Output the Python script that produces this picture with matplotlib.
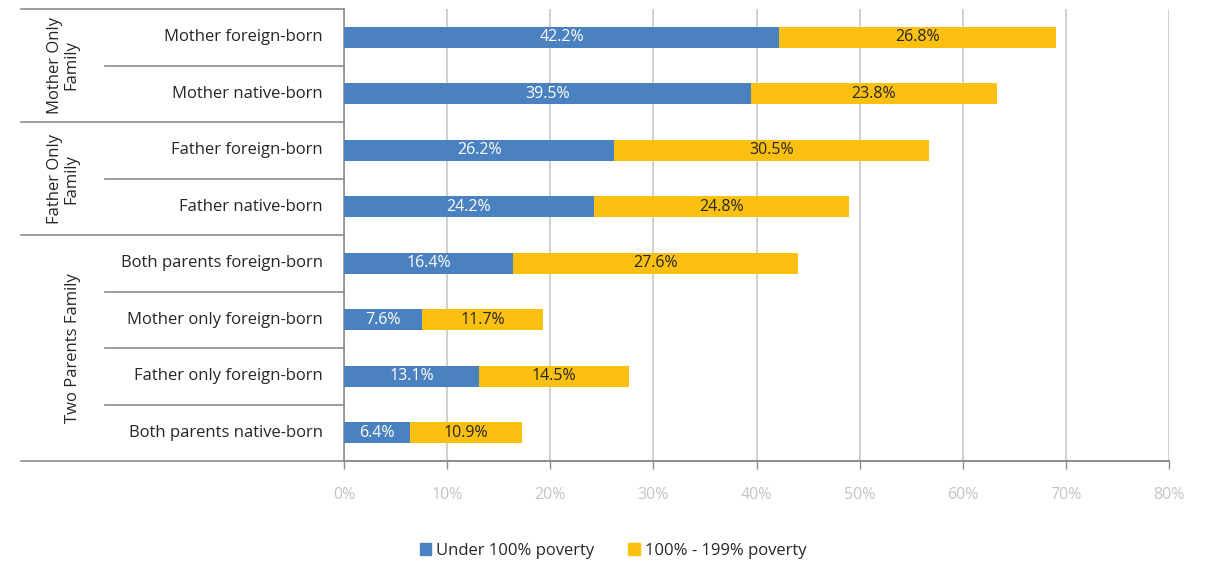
import matplotlib
matplotlib.use("Agg")
import matplotlib.pyplot as plt
import matplotlib.ticker as mticker
from matplotlib.lines import Line2D

# Family type groups and sub-categories (top to bottom)
groups = ["Mother Only\nFamily", "Father Only\nFamily", "Two Parents Family"]
group_sizes = [2, 2, 4]
categories = [
    "Mother foreign-born",
    "Mother native-born",
    "Father foreign-born",
    "Father native-born",
    "Both parents foreign-born",
    "Mother only foreign-born",
    "Father only foreign-born",
    "Both parents native-born",
]
under_100 = [42.2, 39.5, 26.2, 24.2, 16.4, 7.6, 13.1, 6.4]
pov_100_199 = [26.8, 23.8, 30.5, 24.8, 27.6, 11.7, 14.5, 10.9]
series_names = ["Under 100% poverty", "100% - 199% poverty"]
x_ticks = [0, 10, 20, 30, 40, 50, 60, 70, 80]

BLUE = "#4A81C0"
GOLD = "#FCC010"
GRID = "#C8C8C8"
AXIS = "#8C8C8C"
TEXT = "#262626"
TICK_TEXT = "#C4C4C4"

plt.rcParams["font.family"] = ["Open Sans", "DejaVu Sans"]

fig = plt.figure(figsize=(12.09, 5.61), dpi=100)
ax = fig.add_axes([344 / 1209, 1 - 461 / 561, 825 / 1209, 452 / 561])

ypos = list(range(len(categories)))
ax.barh(ypos, under_100, height=0.38, color=BLUE, zorder=3)
ax.barh(ypos, pov_100_199, left=under_100, height=0.38, color=GOLD, zorder=3)

for y, a, b in zip(ypos, under_100, pov_100_199):
    ax.text(a / 2, y, f"{a:.1f}%", ha="center", va="center",
            color="white", fontsize=11.5, zorder=4)
    ax.text(a + b / 2, y, f"{b:.1f}%", ha="center", va="center",
            color=TEXT, fontsize=11.5, zorder=4)

ax.set_xlim(0, 80)
ax.set_ylim(len(categories) - 0.5, -0.5)
ax.set_xticks(x_ticks)
ax.xaxis.set_major_formatter(mticker.FuncFormatter(lambda v, _: f"{v:.0f}%"))
ax.tick_params(axis="x", colors=AXIS, labelcolor=TICK_TEXT, labelsize=11.5,
               length=6, width=1, direction="out", pad=13)
ax.tick_params(axis="y", length=0, labelleft=False)
ax.grid(axis="x", color=GRID, linewidth=1.2, zorder=0)

for side in ("top", "right"):
    ax.spines[side].set_visible(False)
ax.spines["left"].set_color(AXIS)
ax.spines["bottom"].set_color(AXIS)
ax.spines["left"].set_linewidth(1.2)
ax.spines["bottom"].set_linewidth(1.2)

# Category labels and the table-like row separators on the left
trans = ax.get_yaxis_transform()
for y, name in zip(ypos, categories):
    ax.text(-0.026, y, name, transform=trans, ha="right", va="center",
            fontsize=12, color=TEXT)

group_x0 = -0.391
row_x0 = -0.290
boundaries = [-0.5]
for n in group_sizes:
    boundaries.append(boundaries[-1] + n)

for k in range(len(categories) + 1):
    yb = k - 0.5
    x0 = group_x0 if yb in boundaries else row_x0
    x1 = 1.0 if yb == len(categories) - 0.5 else 0.0
    ax.add_line(Line2D([x0, x1], [yb, yb], transform=trans, color=AXIS,
                       linewidth=1.2, clip_on=False, zorder=5))

for g, (name, start) in enumerate(zip(groups, boundaries[:-1])):
    mid = start + group_sizes[g] / 2
    # single-line labels sit closer to the row column
    gx = -0.328 if "\n" not in name else (group_x0 + row_x0) / 2
    ax.text(gx, mid, name, transform=trans,
            rotation=90, ha="center", va="center", fontsize=12,
            color=TEXT, linespacing=1.0, multialignment="center")

handles = [plt.Rectangle((0, 0), 1, 1, color=BLUE),
           plt.Rectangle((0, 0), 1, 1, color=GOLD)]
fig.legend(handles, series_names, loc="center", bbox_to_anchor=(0.507, 1 - 551 / 561),
           ncol=2, frameon=False, fontsize=12, handlelength=0.7,
           handleheight=0.7, handletextpad=0.3, columnspacing=2.0,
           labelcolor=TEXT)

fig.savefig("out.png", dpi=100, facecolor="white")
